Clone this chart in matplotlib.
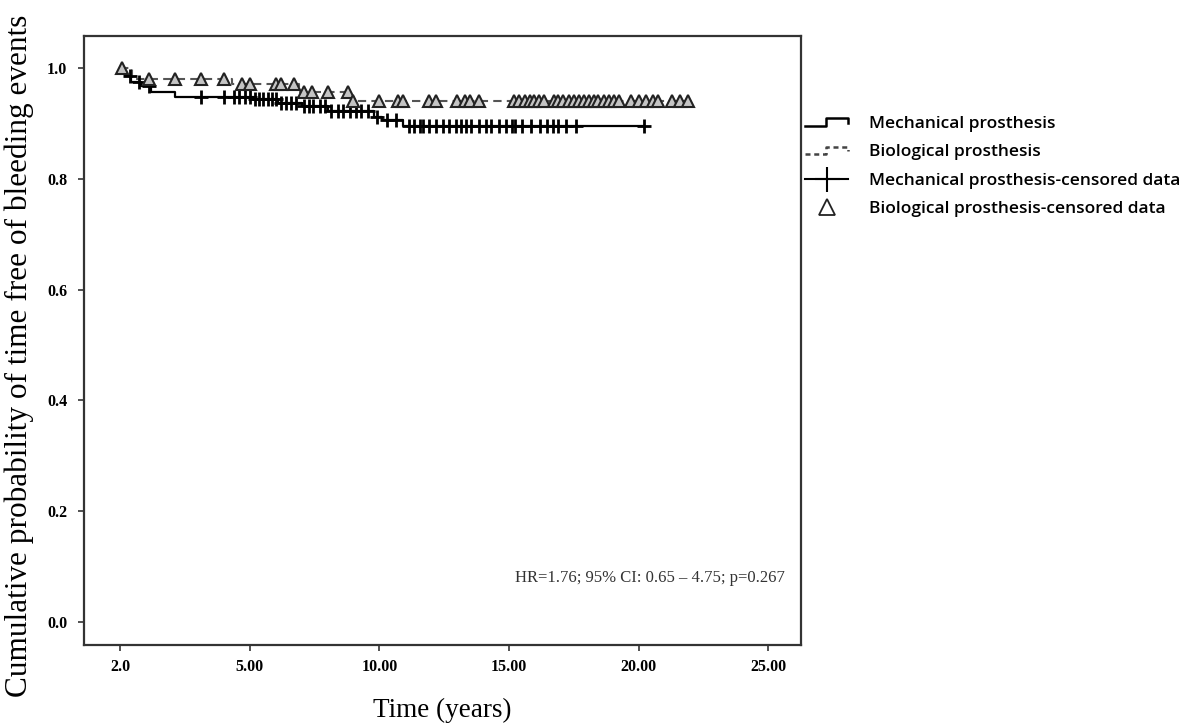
import numpy as np
import matplotlib
matplotlib.use("Agg")
import matplotlib.pyplot as plt
from matplotlib.lines import Line2D
from matplotlib.legend_handler import HandlerBase

# Kaplan-Meier step data (time in years, survival)
mech_t = [0.0, 0.2, 0.4, 0.8, 1.2, 2.1, 5.2, 6.1, 7.0, 8.0, 9.8, 10.1, 10.9, 20.2]
mech_s = [0.996, 0.985, 0.975, 0.968, 0.957, 0.948, 0.944, 0.937, 0.932, 0.922, 0.912, 0.906, 0.895, 0.895]
bio_t = [0.0, 0.45, 4.3, 6.9, 8.9, 22.0]
bio_s = [1.0, 0.98, 0.971, 0.957, 0.94, 0.94]

# censored observations
mech_cens = [0.38, 0.73, 1.1, 3.1, 4.0, 4.4, 4.6, 4.8, 5.0, 5.2, 5.35, 5.5, 5.7, 5.85,
             6.0, 6.2, 6.4, 6.6, 6.8, 7.1, 7.3, 7.45, 7.7, 7.9, 8.15, 8.4, 8.6, 8.85,
             9.1, 9.3, 9.55, 9.9, 10.3, 10.65, 11.15, 11.35, 11.55, 11.7, 11.9, 12.2,
             12.45, 12.7, 12.95, 13.15, 13.35, 13.55, 13.85, 14.1, 14.3, 14.6, 14.9,
             15.1, 15.25, 15.5, 15.85, 16.2, 16.45, 16.7, 16.9, 17.2, 17.6, 20.2]
bio_cens = [0.08, 1.1, 2.1, 3.1, 4.0, 4.7, 5.0, 6.0, 6.2, 6.7, 7.1, 7.4, 8.0, 8.8, 9.0,
            10.0, 10.7, 10.9, 11.9, 12.2, 13.0, 13.3, 13.5, 13.85, 15.2, 15.4, 15.6,
            15.8, 15.95, 16.15, 16.35, 16.75, 16.9, 17.1, 17.3, 17.5, 17.7, 17.9, 18.1,
            18.3, 18.45, 18.65, 18.85, 19.05, 19.25, 19.7, 20.0, 20.3, 20.55, 20.75,
            21.3, 21.6, 21.9]

xticks = [0, 5, 10, 15, 20, 25]
xticklabels = ["2.0", "5.00", "10.00", "15.00", "20.00", "25.00"]
yticks = [0.0, 0.2, 0.4, 0.6, 0.8, 1.0]


def surv_at(t, times, surv):
    idx = np.searchsorted(times, t, side="right") - 1
    return np.array(surv)[idx]


class StepHandler(HandlerBase):
    def __init__(self, ls, color):
        HandlerBase.__init__(self)
        self.ls = ls
        self.color = color

    def create_artists(self, legend, orig_handle, xdescent, ydescent,
                       width, height, fontsize, trans):
        x0 = -xdescent
        y0 = -ydescent
        xs = [x0, x0 + 0.48*width, x0 + 0.48*width, x0 + width, x0 + width]
        ys = [y0 + 0.2*height, y0 + 0.2*height, y0 + 0.8*height,
              y0 + 0.8*height, y0 + 0.45*height]
        ln = Line2D(xs, ys, color=self.color, ls=self.ls, lw=1.8, transform=trans)
        return [ln]


serif = "Liberation Serif"

fig = plt.figure(figsize=(12, 7.26), dpi=100)
ax = fig.add_axes([0.07, 0.112, 0.5975, 0.838])

ax.step(mech_t, mech_s, where="post", color="black", lw=1.6)
ax.step(bio_t, bio_s, where="post", color="#555555", lw=1.5, ls=(0, (4, 2.5)))

ax.plot(mech_cens, surv_at(mech_cens, mech_t, mech_s), ls="none", marker="+",
        ms=10, mew=2.0, color="black")
ax.plot(bio_cens, surv_at(bio_cens, bio_t, bio_s), ls="none", marker="^",
        ms=8, mew=1.5, mec="#222222", mfc="#c4c4c4")

ax.set_xlim(-1.4, 26.27)
ax.set_ylim(-0.041, 1.057)
ax.set_xticks(xticks)
ax.set_xticklabels(xticklabels)
ax.set_yticks(yticks)
ax.set_yticklabels(["%.1f" % v for v in yticks])
for lab in ax.get_xticklabels() + ax.get_yticklabels():
    lab.set_fontfamily(serif)
    lab.set_fontweight("bold")
    lab.set_fontsize(11.5)
ax.tick_params(direction="out", length=4, width=1.2, color="#333333", pad=6)
ax.tick_params(axis="y", pad=8)
for sp in ax.spines.values():
    sp.set_linewidth(1.6)
    sp.set_color("#333333")

ax.set_xlabel("Time (years)", fontfamily=serif, fontsize=19.5, labelpad=17)
fig.text(0.016, 0.51, "Cumulative probability of time free of bleeding events",
         rotation=90, va="center", ha="center", fontfamily=serif, fontsize=22.5)

ax.text(0.978, 0.11, "HR=1.76; 95% CI: 0.65 \u2013 4.75; p=0.267", transform=ax.transAxes,
        ha="right", va="center", fontfamily=serif, fontsize=12, color="#333333")

h1 = Line2D([], [])
h2 = Line2D([], [])
h3 = Line2D([], [], color="black", lw=1.5, marker="+", ms=18, mew=1.5)
h4 = Line2D([], [], ls="none", marker="^", ms=11, mew=1.3, mec="#222222", mfc="white")
fig.legend([h1, h2, h3, h4],
           ["Mechanical prosthesis", "Biological prosthesis",
            "Mechanical prosthesis-censored data", "Biological prosthesis-censored data"],
           handler_map={h1: StepHandler("-", "black"), h2: StepHandler((0, (2, 1.5)), "#444444")},
           loc="upper left", bbox_to_anchor=(805/1200, 1 - 116/726), frameon=False,
           borderpad=0, borderaxespad=0,
           prop={"family": "Open Sans", "size": 12.5, "weight": "semibold"},
           handlelength=2.5, handletextpad=1.2, labelspacing=0.7)

fig.savefig("out.png", dpi=100)
